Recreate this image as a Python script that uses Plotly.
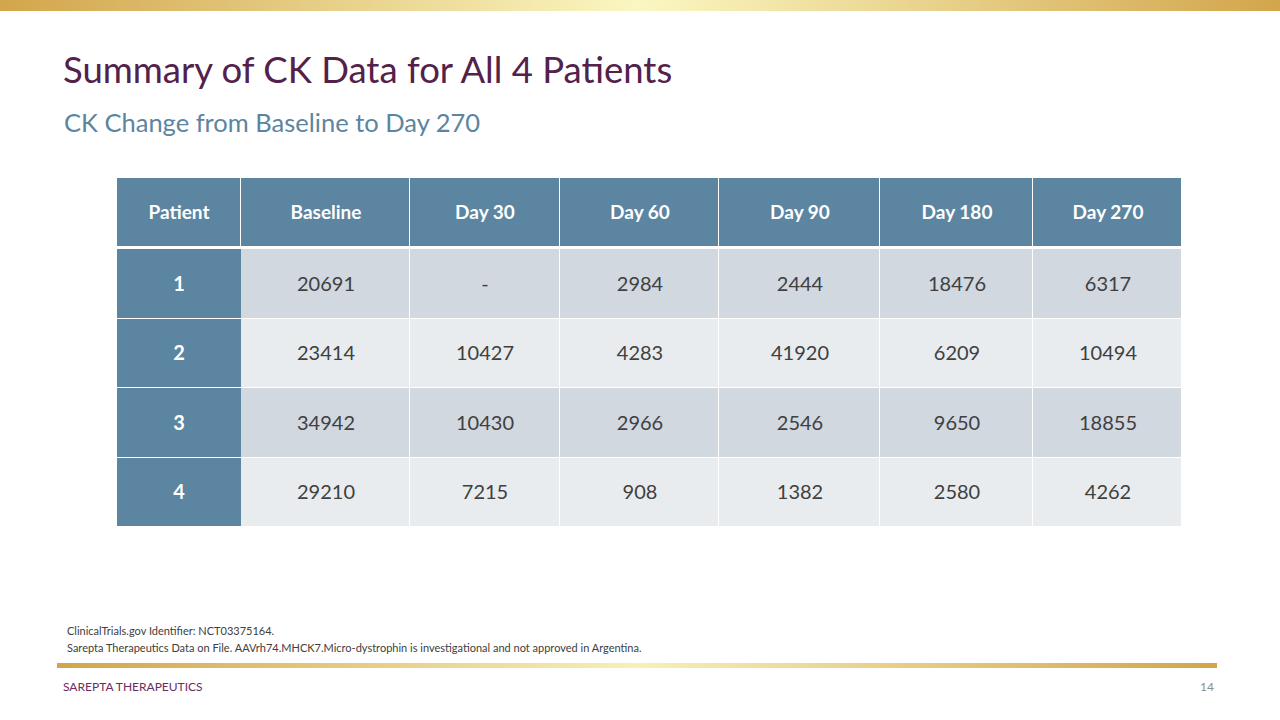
import numpy as np
import plotly.graph_objects as go

# table data
headers = ["Patient", "Baseline", "Day 30", "Day 60", "Day 90", "Day 180", "Day 270"]
patients = ["1", "2", "3", "4"]
baseline = [20691, 23414, 34942, 29210]
day30 = [None, 10427, 10430, 7215]
day60 = [2984, 4283, 2966, 908]
day90 = [2444, 41920, 2546, 1382]
day180 = [18476, 6209, 9650, 2580]
day270 = [6317, 10494, 18855, 4262]

# table geometry in slide pixels
TABLE_LEFT = 117
col_widths = [124, 169, 150, 159, 161, 153, 149]
HEADER_TOP, HEADER_BOTTOM = 178, 246
BODY_TOP, BODY_BOTTOM = 249, 527

BLUE = "#5B85A0"
ROW_A = "#D1D8E0"
ROW_B = "#E8ECEF"
PURPLE = "#53214A"
FONT = "Lato"

x_edges = TABLE_LEFT + np.concatenate([[0], np.cumsum(col_widths)])
row_edges = np.linspace(BODY_TOP, BODY_BOTTOM, len(patients) + 1)

columns = [baseline, day30, day60, day90, day180, day270]
cell_text = [["-" if col[r] is None else str(col[r]) for col in columns] for r in range(len(patients))]
stripe = [[r % 2] * len(columns) for r in range(len(patients))]

fig = go.Figure()

# header row
fig.add_trace(go.Heatmap(
    x=x_edges, y=[HEADER_TOP, HEADER_BOTTOM], z=[[0] * len(headers)],
    text=[headers], texttemplate="%{text}",
    textfont=dict(family=FONT, size=19, color="white", weight="bold"),
    colorscale=[[0, BLUE], [1, BLUE]], showscale=False, xgap=1, hoverinfo="skip",
))
# patient column
fig.add_trace(go.Heatmap(
    x=x_edges[:2], y=row_edges, z=[[0] for _ in patients],
    text=[[p] for p in patients], texttemplate="%{text}",
    textfont=dict(family=FONT, size=20, color="white", weight="bold"),
    colorscale=[[0, BLUE], [1, BLUE]], showscale=False, ygap=1, hoverinfo="skip",
))
# CK values, banded rows
fig.add_trace(go.Heatmap(
    x=x_edges[1:], y=row_edges, z=stripe, zmin=0, zmax=1,
    text=cell_text, texttemplate="%{text}",
    textfont=dict(family=FONT, size=20, color="#404040"),
    colorscale=[[0, ROW_A], [1, ROW_B]], showscale=False, xgap=1, ygap=1, hoverinfo="skip",
))

# gold gradient bands (top of slide and footer rule)
fig.add_trace(go.Scatter(
    x=[0, 1280, 1280, 0, 0], y=[0, 0, 11, 11, 0], mode="lines", line=dict(width=0),
    fill="toself",
    fillgradient=dict(type="horizontal",
                      colorscale=[[0, "#D2A54B"], [0.5, "#FBF7C2"], [1, "#D2A54B"]]),
    hoverinfo="skip", showlegend=False,
))
fig.add_trace(go.Scatter(
    x=[57, 1217, 1217, 57, 57], y=[663, 663, 668, 668, 663], mode="lines", line=dict(width=0),
    fill="toself",
    fillgradient=dict(type="horizontal",
                      colorscale=[[0, "#D2A54B"], [0.5, "#F7F0B8"], [1, "#D2A54B"]]),
    hoverinfo="skip", showlegend=False,
))

fig.add_annotation(x=61, y=69, text="Summary of CK Data for All 4 Patients",
                   font=dict(family=FONT, size=36.5, color=PURPLE))
fig.add_annotation(x=61.5, y=122, text="CK Change from Baseline to Day 270",
                   font=dict(family=FONT, size=25.5, color="#5B85A0"))
fig.add_annotation(x=65, y=630, text="ClinicalTrials.gov Identifier: NCT03375164.",
                   font=dict(family=FONT, size=11, color="#404040"))
fig.add_annotation(x=65, y=647,
                   text="Sarepta Therapeutics Data on File. AAVrh74.MHCK7.Micro-dystrophin is investigational and not approved in Argentina.",
                   font=dict(family=FONT, size=11, color="#404040"))
fig.add_annotation(x=61, y=686, text="SAREPTA THERAPEUTICS",
                   font=dict(family=FONT, size=12, color="#6B2C5F"))
fig.add_annotation(x=1216, y=686, text="14",
                   font=dict(family=FONT, size=12, color="#8C8C8C"))
fig.update_annotations(xref="x", yref="y", showarrow=False, xanchor="left", yanchor="middle")
fig.layout.annotations[-1].xanchor = "right"

fig.update_xaxes(range=[0, 1280], visible=False, fixedrange=True)
fig.update_yaxes(range=[720, 0], visible=False, fixedrange=True)
fig.update_layout(
    width=1280, height=720,
    margin=dict(l=0, r=0, t=0, b=0),
    paper_bgcolor="white", plot_bgcolor="white",
    showlegend=False,
)

# drop the page's default body margin so the slide sits at the window corner
fig.write_html("out.html", config={"displayModeBar": False},
               post_script="document.body.style.margin='0';")
